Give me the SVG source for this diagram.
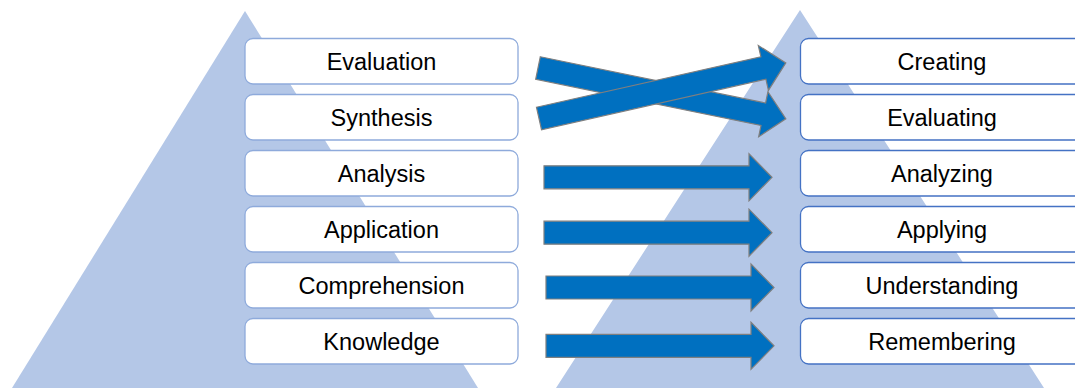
<svg xmlns="http://www.w3.org/2000/svg" width="1075" height="388" viewBox="0 0 1075 388">
<style>
.tri{fill:#B4C7E7}
.lbox{fill:#fff;stroke:#8EAADB;stroke-width:1.3}
.rbox{fill:#fff;stroke:#4472C4;stroke-width:1.3}
.lbl{font-family:"Liberation Sans",Arial,sans-serif;font-size:23.5px;fill:#000;text-anchor:middle}
.arr{fill:#0070C0;stroke:#7F7F7F;stroke-width:1.2}
</style>
<rect width="1075" height="388" fill="#fff"/>
<polygon id="left-pyramid" class="tri" points="245,11 478,388 478,400 12,400 12,388"/>
<polygon id="right-pyramid" class="tri" points="800,10 1044,388 1052,400 548,400 556,388"/>
<g id="node-evaluation"><rect class="lbox" x="245" y="38.5" width="273" height="45.5" rx="8"/><text class="lbl" x="381.5" y="69.5">Evaluation</text></g>
<g id="node-synthesis"><rect class="lbox" x="245" y="94.5" width="273" height="45.5" rx="8"/><text class="lbl" x="381.5" y="125.5">Synthesis</text></g>
<g id="node-analysis"><rect class="lbox" x="245" y="150.5" width="273" height="45.5" rx="8"/><text class="lbl" x="381.5" y="181.5">Analysis</text></g>
<g id="node-application"><rect class="lbox" x="245" y="206.5" width="273" height="45.5" rx="8"/><text class="lbl" x="381.5" y="237.5">Application</text></g>
<g id="node-comprehension"><rect class="lbox" x="245" y="262.5" width="273" height="45.5" rx="8"/><text class="lbl" x="381.5" y="293.5">Comprehension</text></g>
<g id="node-knowledge"><rect class="lbox" x="245" y="318.5" width="273" height="45.5" rx="8"/><text class="lbl" x="381.5" y="349.5">Knowledge</text></g>
<g id="node-creating"><rect class="rbox" x="800.5" y="38.5" width="285" height="45.5" rx="8"/><text class="lbl" x="942" y="69.5">Creating</text></g>
<g id="node-evaluating"><rect class="rbox" x="800.5" y="94.5" width="285" height="45.5" rx="8"/><text class="lbl" x="942" y="125.5">Evaluating</text></g>
<g id="node-analyzing"><rect class="rbox" x="800.5" y="150.5" width="285" height="45.5" rx="8"/><text class="lbl" x="942" y="181.5">Analyzing</text></g>
<g id="node-applying"><rect class="rbox" x="800.5" y="206.5" width="285" height="45.5" rx="8"/><text class="lbl" x="942" y="237.5">Applying</text></g>
<g id="node-understanding"><rect class="rbox" x="800.5" y="262.5" width="285" height="45.5" rx="8"/><text class="lbl" x="942" y="293.5">Understanding</text></g>
<g id="node-remembering"><rect class="rbox" x="800.5" y="318.5" width="285" height="45.5" rx="8"/><text class="lbl" x="942" y="349.5">Remembering</text></g>
<g id="connectors">
<path class="arr" transform="translate(538,68) rotate(11.6)" d="M0,-11.5 H230 V-23 L253,0 L230,23 V11.5 H0 Z"/>
<path class="arr" transform="translate(539,118.5) rotate(-12.7)" d="M0,-11.5 H230 V-23 L253,0 L230,23 V11.5 H0 Z"/>
<path class="arr" transform="translate(544,177.3)" d="M0,-11.5 H205 V-23.5 L228,0 L205,23.5 V11.5 H0 Z"/>
<path class="arr" transform="translate(544,232.7)" d="M0,-11.5 H205 V-23.5 L228,0 L205,23.5 V11.5 H0 Z"/>
<path class="arr" transform="translate(546,287.5)" d="M0,-11.5 H205 V-23.5 L228,0 L205,23.5 V11.5 H0 Z"/>
<path class="arr" transform="translate(546,345.8)" d="M0,-11.5 H205 V-23.5 L228,0 L205,23.5 V11.5 H0 Z"/>
</g>
</svg>
